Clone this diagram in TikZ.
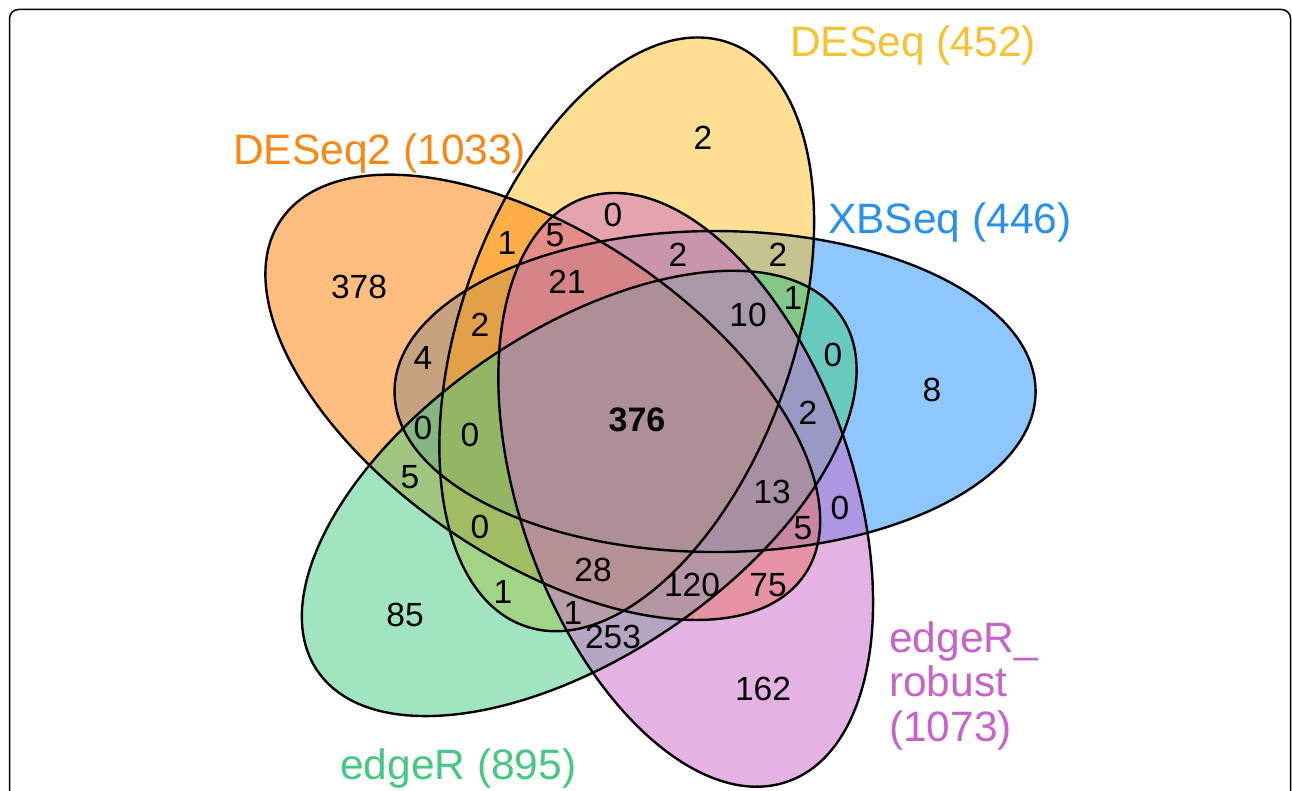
\documentclass[tikz,border=0pt]{standalone}
\usepackage{fontspec}
\setmainfont{Liberation Sans}
\definecolor{cOr}{RGB}{255,127,0}
\definecolor{cYe}{RGB}{255,193,37}
\definecolor{cBl}{RGB}{30,144,255}
\definecolor{cGr}{RGB}{67,205,128}
\definecolor{cPi}{RGB}{205,105,201}
\definecolor{lOr}{RGB}{248,135,20}
\definecolor{lYe}{RGB}{245,195,50}
\definecolor{lBl}{RGB}{40,145,240}
\definecolor{lGr}{RGB}{70,200,130}
\definecolor{lPi}{RGB}{200,100,200}
\tikzset{
  setfill/.style={fill=#1, fill opacity=0.5},
  setline/.style={draw=black, line width=2.4pt},
  num/.style={inner sep=0pt, font=\fontsize{33.5}{38}\selectfont},
  lbl/.style={inner sep=0pt, anchor=base west, font=\fontsize{42.5}{46}\selectfont, text=#1},
}
\newcommand{\vennset}[2]{% #1 = rotation, #2 = style
  \path[#2, rotate=#1] (20:87) ellipse [x radius=307.7pt, y radius=160.5pt];}
\begin{document}
\begin{tikzpicture}[x=1pt,y=1pt]
\useasboundingbox (0,0) rectangle (1292,791);
\fill[white] (0,0) rectangle (1292,791);
\draw[rounded corners=9pt,line width=1.5pt] (9.5,781.5) rectangle (1290.5,-30);
\begin{scope}[shift={(629.9,369.7)}, xscale=1.0417]
  % fills, bottom to top: XBSeq, DESeq, DESeq2, edgeR, edgeR_robust
  \vennset{0}{setfill=cBl}
  \vennset{72}{setfill=cYe}
  \vennset{144}{setfill=cOr}
  \vennset{216}{setfill=cGr}
  \vennset{288}{setfill=cPi}
  % outlines
  \vennset{0}{setline}
  \vennset{72}{setline}
  \vennset{144}{setline}
  \vennset{216}{setline}
  \vennset{288}{setline}
\end{scope}
% labels
\node[lbl=lOr] (lDESeqTwo) at (233,626) {DESeq2 (1033)};
\node[lbl=lYe] (lDESeq) at (790,734) {DESeq (452)};
\node[lbl=lBl] (lXBSeq) at (828,557) {XBSeq (446)};
\node[lbl=lGr] (lEdgeR) at (340,11) {edgeR (895)};
\node[lbl=lPi] (lRobA) at (889,138) {edgeR\_};
\node[lbl=lPi] (lRobB) at (889,94) {robust};
\node[lbl=lPi] (lRobC) at (889,49) {(1073)};
% numbers
\node[num] (a1) at (703,653) {2};
\node[num] (a2) at (359,504) {378};
\node[num] (a3) at (932,401) {8};
\node[num] (a4) at (405,176) {85};
\node[num] (a5) at (763,102) {162};
\node[num,font=\fontsize{34}{38}\selectfont\bfseries] (a6) at (637,371) {376};
\node[num] (a7) at (613,576) {0};
\node[num] (a8) at (555,556) {5};
\node[num] (a9) at (507,548) {1};
\node[num] (a10) at (678,536) {2};
\node[num] (a11) at (778,536) {2};
\node[num] (a12) at (567,509) {21};
\node[num] (a13) at (748,476) {10};
\node[num] (a14) at (793,493) {1};
\node[num] (a15) at (480,466) {2};
\node[num] (a16) at (423,433) {4};
\node[num] (a17) at (833,436) {0};
\node[num] (a18) at (808,378) {2};
\node[num] (a19) at (423,363) {0};
\node[num] (a20) at (470,356) {0};
\node[num] (a21) at (410,314) {5};
\node[num] (a22) at (772,299) {13};
\node[num] (a23) at (840,283) {0};
\node[num] (a24) at (803,263) {5};
\node[num] (a25) at (480,264) {0};
\node[num] (a26) at (593,221) {28};
\node[num] (a27) at (692,206) {120};
\node[num] (a28) at (768,206) {75};
\node[num] (a29) at (503,199) {1};
\node[num] (a30) at (573,178) {1};
\node[num] (a31) at (613,154) {253};
\end{tikzpicture}
\end{document}
